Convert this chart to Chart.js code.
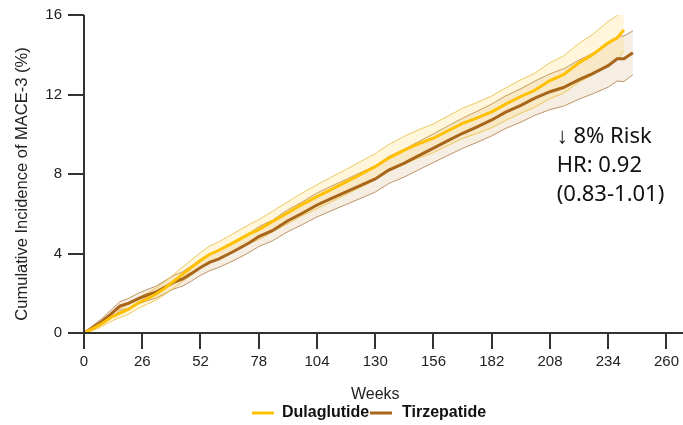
<!DOCTYPE html>
<html>
<head>
<meta charset="utf-8">
<script src="https://cdn.jsdelivr.net/npm/chart.js@4"></script>
<style>
  html, body { margin: 0; padding: 0; background: #fff; }
  #wrap { width: 683px; height: 425px; }
</style>
</head>
<body>
<div id="wrap"><canvas id="mace"></canvas></div>
<script>
const weeks = [0,4,8,12,16,20,24,28,32,36,40,44,48,52,56,60,65,70,74,78,84,91,97,104,110,117,123,130,136,143,149,156,162,169,175,182,188,195,201,208,214,221,227,234,238,241,245];

const dula = [0,0.22,0.48,0.78,1.0,1.2,1.5,1.72,1.95,2.25,2.6,2.95,3.3,3.65,3.95,4.15,4.45,4.75,5.0,5.2,5.6,6.05,6.45,6.86,7.2,7.6,7.95,8.37,8.8,9.2,9.5,9.8,10.15,10.55,10.8,11.13,11.5,11.9,12.2,12.7,13.0,13.6,14.0,14.6,14.85,15.25,null];
const dulaHi = [0,0.32,0.63,0.98,1.22,1.45,1.77,2.0,2.25,2.57,2.94,3.31,3.68,4.05,4.37,4.58,4.9,5.22,5.48,5.7,6.12,6.6,7.02,7.46,7.82,8.23,8.6,9.03,9.48,9.9,10.21,10.52,10.89,11.31,11.58,11.93,12.32,12.74,13.06,13.6,13.94,14.58,15.02,15.68,15.97,16.3,null];
const dulaLo = [0,0.12,0.33,0.58,0.78,0.95,1.23,1.44,1.65,1.93,2.26,2.59,2.92,3.25,3.53,3.72,4.0,4.28,4.52,4.7,5.08,5.5,5.88,6.26,6.58,6.97,7.3,7.71,8.12,8.5,8.79,9.08,9.41,9.79,10.02,10.33,10.68,11.06,11.34,11.8,12.06,12.62,12.98,13.52,13.73,14.2,null];

const tirz = [0,0.28,0.58,0.95,1.35,1.5,1.72,1.9,2.05,2.3,2.55,2.72,3.0,3.3,3.55,3.72,4.0,4.3,4.55,4.85,5.15,5.65,6.0,6.44,6.75,7.1,7.4,7.75,8.2,8.55,8.9,9.3,9.65,10.05,10.35,10.72,11.1,11.45,11.8,12.14,12.35,12.75,13.05,13.45,13.8,13.8,14.1];
const tirzHi = [0,0.38,0.73,1.15,1.57,1.75,1.99,2.18,2.35,2.62,2.89,3.08,3.38,3.7,3.97,4.15,4.45,4.77,5.03,5.35,5.67,6.2,6.57,7.04,7.37,7.73,8.05,8.41,8.88,9.25,9.61,10.02,10.39,10.81,11.13,11.52,11.92,12.29,12.66,13.04,13.29,13.73,14.07,14.53,14.92,14.95,15.2];
const tirzLo = [0,0.18,0.43,0.75,1.13,1.25,1.45,1.62,1.75,1.98,2.21,2.36,2.62,2.9,3.13,3.29,3.55,3.83,4.07,4.35,4.63,5.1,5.43,5.84,6.13,6.47,6.75,7.09,7.52,7.85,8.19,8.58,8.91,9.29,9.57,9.92,10.28,10.61,10.94,11.24,11.41,11.77,12.03,12.37,12.68,12.65,13.0];

const xTicks = [0,26,52,78,104,130,156,182,208,234,260];
const yTicks = [0,4,8,12,16];
const seriesNames = ["Dulaglutide", "Tirzepatide"];
const hrText = ["\u2193 8% Risk", "HR: 0.92", "(0.83-1.01)"];

const GOLD = "#ffc000";
const BROWN = "#a8661c";
const AXIS = "#333";

function pts(vals) {
  return weeks.map((w, i) => ({ x: w, y: vals[i] }));
}

function band(vals, fill, bg, border) {
  return {
    data: pts(vals),
    fill: fill,
    backgroundColor: bg,
    borderColor: border,
    borderWidth: 1,
    pointRadius: 0,
    tension: 0
  };
}

// axis lines run past the chart area like the original
const axisLines = {
  id: "axisLines",
  afterDraw(chart) {
    const { ctx } = chart;
    const x = chart.scales.x, y = chart.scales.y;
    const x0 = x.getPixelForValue(0), y0 = y.getPixelForValue(0);
    ctx.save();
    ctx.strokeStyle = AXIS;
    ctx.lineWidth = 2;
    ctx.beginPath();
    ctx.moveTo(x0 - 16, y0);
    ctx.lineTo(chart.width, y0);
    ctx.moveTo(x0, y.getPixelForValue(16));
    ctx.lineTo(x0, y0 + 16);
    ctx.stroke();

    // y title, sits a bit below the middle in the source
    ctx.fillStyle = "#222";
    ctx.font = "16.5px 'Liberation Sans', Arial, sans-serif";
    ctx.textAlign = "center";
    ctx.textBaseline = "middle";
    ctx.translate(22, 184);
    ctx.rotate(-Math.PI / 2);
    ctx.fillText("Cumulative Incidence of MACE-3 (%)", 0, 0);
    ctx.restore();

    // hazard ratio note
    ctx.save();
    ctx.fillStyle = "#111";
    ctx.font = "22px 'Noto Sans', sans-serif";
    ctx.textAlign = "left";
    ctx.textBaseline = "middle";
    const tx = x.getPixelForValue(211);
    [9.85, 8.4, 6.95].forEach((v, i) => ctx.fillText(hrText[i], tx, y.getPixelForValue(v)));
    ctx.restore();

    // legend
    ctx.save();
    ctx.font = "bold 16px 'Liberation Sans', Arial, sans-serif";
    ctx.textBaseline = "middle";
    ctx.textAlign = "left";
    const ly = 413;
    [[252, GOLD, 282], [370, BROWN, 402]].forEach(([lx, col, txx], i) => {
      ctx.fillStyle = col;
      ctx.fillRect(lx, ly - 1.5, 22, 3);
      ctx.fillStyle = "#111";
      ctx.fillText(seriesNames[i], txx, ly);
    });
    ctx.restore();
  }
};

new Chart(document.getElementById("mace"), {
  type: "line",
  data: {
    datasets: [
      { label: seriesNames[0], data: pts(dula), borderColor: GOLD, borderWidth: 3, pointRadius: 0, tension: 0, fill: false },
      { label: seriesNames[1], data: pts(tirz), borderColor: BROWN, borderWidth: 3, pointRadius: 0, tension: 0, fill: false },
      band(dulaHi, "+1", "rgba(255, 205, 60, 0.18)", "rgba(232, 196, 80, 0.9)"),
      band(dulaLo, false, "transparent", "rgba(232, 196, 80, 0.9)"),
      band(tirzHi, "+1", "rgba(190, 135, 60, 0.14)", "rgba(176, 130, 80, 0.85)"),
      band(tirzLo, false, "transparent", "rgba(176, 130, 80, 0.85)")
    ]
  },
  options: {
    responsive: true,
    maintainAspectRatio: false,
    animation: false,
    layout: { padding: { top: 15, right: 13, left: 0, bottom: 0 } },
    plugins: {
      legend: { display: false },
      tooltip: { enabled: false }
    },
    scales: {
      x: {
        type: "linear",
        min: 0,
        max: 260,
        afterBuildTicks: s => { s.ticks = xTicks.map(v => ({ value: v })); },
        afterFit: s => { s.height = 92; },
        border: { display: false },
        grid: { drawOnChartArea: false, drawTicks: true, tickLength: 16, color: AXIS, lineWidth: 2 },
        ticks: { color: "#222", padding: 4, maxRotation: 0, font: { family: "'Liberation Sans', Arial, sans-serif", size: 15 } },
        title: {
          display: true,
          text: "Weeks",
          color: "#222",
          padding: { top: 0, bottom: 21 },
          font: { family: "'Liberation Sans', Arial, sans-serif", size: 16 }
        }
      },
      y: {
        min: 0,
        max: 16,
        afterBuildTicks: s => { s.ticks = yTicks.map(v => ({ value: v })); },
        afterFit: s => { s.width = 84; },
        border: { display: false },
        grid: { drawOnChartArea: false, drawTicks: true, tickLength: 16, color: AXIS, lineWidth: 2 },
        ticks: { color: "#222", padding: 6, font: { family: "'Liberation Sans', Arial, sans-serif", size: 15 } }
      }
    }
  },
  plugins: [axisLines]
});
</script>
</body>
</html>
